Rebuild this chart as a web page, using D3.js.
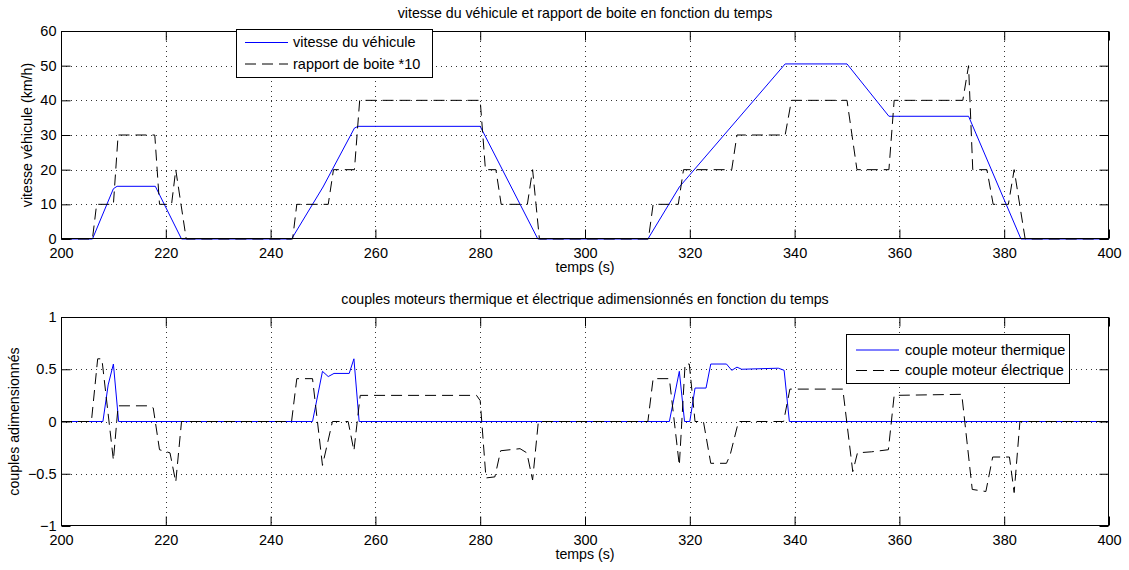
<!DOCTYPE html>
<html><head><meta charset="utf-8">
<script src="https://cdn.jsdelivr.net/npm/d3@7"></script>
<style>
body{margin:0;background:#fff}
text{font-family:"Liberation Sans",Arial,Helvetica,sans-serif;fill:#000}
</style>
</head><body>
<svg id="c" width="1129" height="570"></svg>
<script>
// ---------- DATA ----------
const xTicks = [200,220,240,260,280,300,320,340,360,380,400];
const yTicksTop = [0,10,20,30,40,50,60];
const yTicksBot = [-1,-0.5,0,0.5,1];

const speedT = [200,206,210,210.7,218,223,244,250,256,256.7,280,291,312,318,338.2,350,358,373.2,383.2,400];
const speedV = [0,0,14.5,15.2,15.2,0,0,15,32,32.5,32.5,0,0,15,50.5,50.5,35.4,35.4,0,0];

const gearT = [200,206,206.8,210,210.9,217.9,218.8,221.1,221.9,223.9,244.2,245,251,252,256,257,280,281,283,284,289,290,291.3,312.1,313,317.8,318.8,328,329,338.2,339.4,350,351.9,358,359,372.1,373.2,374,376.7,377.9,380.8,381.9,384,400];
const gearV = [0,0,10,10,30,30,10,10,20,0,0,10,10,20,20,40,40,20,20,10,10,20,0,0,10,10,20,20,30,30,40,40,20,20,40,40,50,20,20,10,10,20,0,0];

const thermT = [200,208,209,210,211,248,249.9,251,252.1,255,255.9,256.9,316.1,318,319,320,321,323.1,324,327,328,329,329.9,336.9,338,339,400];
const thermV = [0,0,0.35,0.55,0,0,0.48,0.43,0.46,0.46,0.6,0,0,0.48,0,0,0.32,0.32,0.55,0.55,0.49,0.52,0.5,0.51,0.49,0,0];

const elecT = [200,205.8,207,207.8,210,210.9,216.7,217.6,218.8,220.8,221.9,223,
  244,245,248,249.9,251.8,254.8,255.9,257.1,279.3,280,281.1,282.8,283.9,287.6,288.9,290,291.1,
  312,313,316.1,318,319.1,319.9,321,322.6,324,327,327.7,329.3,337.9,339.1,349.2,351.1,352,354.7,357.9,359,371.9,373.9,376.5,377.8,381,381.9,383,400];
const elecV = [0,0,0.6,0.6,-0.37,0.15,0.15,0.13,-0.27,-0.3,-0.58,0,
  0,0.41,0.41,-0.42,0,0,-0.28,0.25,0.25,0.2,-0.54,-0.53,-0.28,-0.26,-0.3,-0.56,0,
  0,0.41,0.41,-0.42,0.55,0.55,0,0,-0.4,-0.4,-0.32,0,0,0.31,0.31,-0.48,-0.3,-0.29,-0.27,0.25,0.26,-0.65,-0.67,-0.34,-0.34,-0.68,0,0];

// ---------- DRAW ----------
const svg = d3.select("#c");
svg.append("rect").attr("width",1129).attr("height",570).attr("fill","#fff");

const X0 = 61, X1 = 1109;
const FT = 14.5;   // tick & legend font
const FL = 14.2;   // titles & labels
const fmt = d => d < 0 ? "\u2212" + Math.abs(d) : String(d);

function panel(cfg){
  const x = d3.scaleLinear().domain([200,400]).range([X0,X1]);
  const y = d3.scaleLinear().domain(cfg.ydom).range([cfg.bottom,cfg.top]);
  const g = svg.append("g");
  const id = "clip"+cfg.id;
  svg.append("clipPath").attr("id",id).append("rect")
    .attr("x",X0).attr("y",cfg.top-2).attr("width",X1-X0).attr("height",cfg.bottom-cfg.top+4);

  // grid
  const grid = g.append("g").attr("stroke","#000").attr("stroke-width",0.8).attr("stroke-dasharray","1,4");
  xTicks.slice(1,-1).forEach(t=>{
    grid.append("line").attr("x1",Math.round(x(t))+0.5).attr("x2",Math.round(x(t))+0.5)
      .attr("y1",cfg.top).attr("y2",cfg.bottom);
  });
  cfg.yticks.slice(1,-1).forEach(t=>{
    grid.append("line").attr("y1",Math.round(y(t))+0.5).attr("y2",Math.round(y(t))+0.5)
      .attr("x1",X0).attr("x2",X1);
  });

  // series
  const sg = g.append("g").attr("clip-path","url(#"+id+")");
  cfg.series.forEach(s=>{
    const pts = s.t.map((t,i)=>[t,s.v[i]]);
    sg.append("path").attr("d", d3.line().x(d=>x(d[0])).y(d=>y(d[1]))(pts))
      .attr("fill","none").attr("stroke",s.color).attr("stroke-width",1)
      .attr("stroke-dasharray",s.dash||null);
  });

  // box
  g.append("rect").attr("x",X0+0.5).attr("y",cfg.top+0.5).attr("width",X1-X0-1).attr("height",cfg.bottom-cfg.top-1)
    .attr("fill","none").attr("stroke","#000").attr("stroke-width",1);

  // axes with inward ticks
  const tl = 9;
  g.append("g").attr("transform",`translate(0,${cfg.bottom-0.5})`)
    .call(d3.axisBottom(x).tickValues(xTicks).tickSize(-tl).tickPadding(9).tickFormat(d=>d))
    .call(a=>{a.select(".domain").remove();a.selectAll("text").attr("font-size",FT).attr("font-family","Liberation Sans, Arial, sans-serif");});
  g.append("g").attr("transform",`translate(0,${cfg.top+0.5})`)
    .call(d3.axisTop(x).tickValues(xTicks).tickSize(-tl).tickFormat(""))
    .call(a=>a.select(".domain").remove());
  g.append("g").attr("transform",`translate(${X0+0.5},0)`)
    .call(d3.axisLeft(y).tickValues(cfg.yticks).tickSize(-tl).tickPadding(5).tickFormat(fmt))
    .call(a=>{a.select(".domain").remove();a.selectAll("text").attr("font-size",FT).attr("font-family","Liberation Sans, Arial, sans-serif");});
  g.append("g").attr("transform",`translate(${X1-0.5},0)`)
    .call(d3.axisRight(y).tickValues(cfg.yticks).tickSize(-tl).tickFormat(""))
    .call(a=>a.select(".domain").remove());

  // titles
  g.append("text").attr("x",(X0+X1)/2).attr("y",cfg.top-13).attr("text-anchor","middle")
    .attr("font-size",FL).text(cfg.title);
  g.append("text").attr("x",(X0+X1)/2).attr("y",cfg.bottom+33).attr("text-anchor","middle")
    .attr("font-size",FL).text("temps (s)");
  g.append("text").attr("transform",`translate(${cfg.ylabX},${(cfg.top+cfg.bottom)/2}) rotate(-90)`)
    .attr("text-anchor","middle").attr("font-size",FL).text(cfg.ylabel);

  // legend
  const L = cfg.legend;
  const lg = g.append("g");
  lg.append("rect").attr("x",L.x+0.5).attr("y",L.y+0.5).attr("width",L.w).attr("height",L.h)
    .attr("fill","#fff").attr("stroke","#000").attr("stroke-width",1);
  cfg.series.forEach((s,i)=>{
    const yy = L.rows[i];
    lg.append("line").attr("x1",L.lx0).attr("x2",L.lx1).attr("y1",yy+0.5).attr("y2",yy+0.5)
      .attr("stroke",s.color).attr("stroke-width",1).attr("stroke-dasharray",s.dash||null);
    lg.append("text").attr("x",L.tx).attr("y",yy).attr("dy","0.35em").attr("font-size",FT).text(s.name);
  });
}

panel({
  id:1, top:31, bottom:239, ydom:[0,60], yticks:yTicksTop,
  title:"vitesse du véhicule et rapport de boite en fonction du temps",
  ylabel:"vitesse véhicule (km/h)", ylabX:32,
  series:[
    {t:speedT, v:speedV, color:"#0000ff", name:"vitesse du véhicule"},
    {t:gearT, v:gearV, color:"#000", dash:"11,6", name:"rapport de boite *10"}
  ],
  legend:{x:236,y:29,w:196,h:48,rows:[42,63.5],lx0:245,lx1:288,tx:293}
});

panel({
  id:2, top:317, bottom:526, ydom:[-1,1], yticks:yTicksBot,
  title:"couples moteurs thermique et électrique adimensionnés en fonction du temps",
  ylabel:"couples adimensionnés", ylabX:19,
  series:[
    {t:thermT, v:thermV, color:"#0000ff", name:"couple moteur thermique"},
    {t:elecT, v:elecV, color:"#000", dash:"11,6", name:"couple moteur électrique"}
  ],
  legend:{x:846,y:334,w:223,h:49,rows:[349.5,370],lx0:856,lx1:899,tx:905}
});
</script>
</body></html>
